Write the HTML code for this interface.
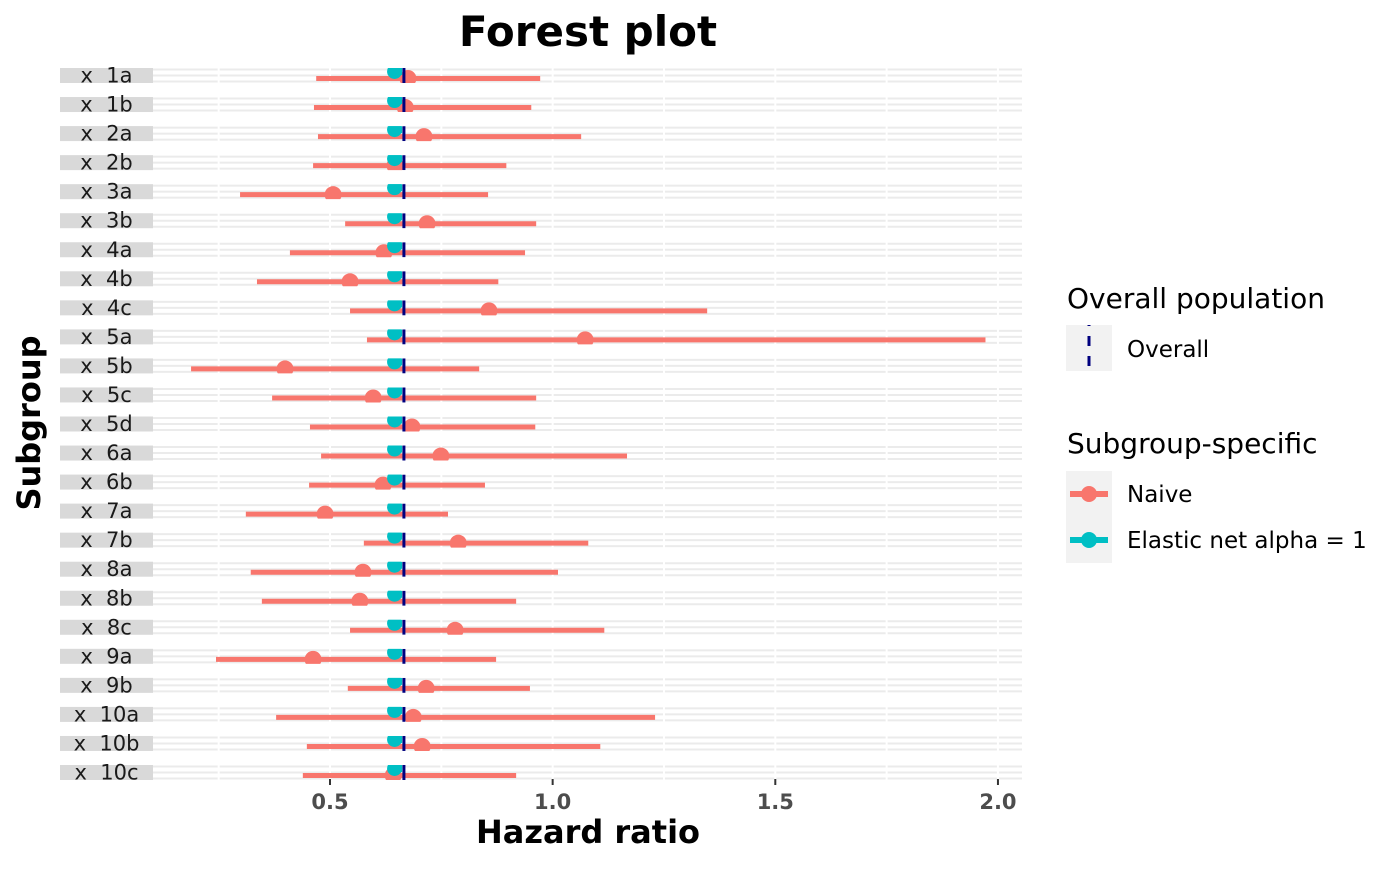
<!DOCTYPE html>
<html><head><meta charset="utf-8"><style>
body{margin:0;background:#fff;font-family:"DejaVu Sans","Liberation Sans",sans-serif}
text{white-space:pre}
</style></head><body>
<svg id="chart" width="1400" height="866" xmlns="http://www.w3.org/2000/svg" font-family="DejaVu Sans, Liberation Sans, sans-serif">
<text x="588" y="46" font-size="42" font-weight="bold" text-anchor="middle">Forest plot</text>
<text x="588" y="843" font-size="32" font-weight="bold" text-anchor="middle">Hazard ratio</text>
<text transform="translate(40,423) rotate(-90)" font-size="32" font-weight="bold" text-anchor="middle">Subgroup</text>
<g id="rows"></g>
<g id="xaxis"></g>
<g>
<text x="1067" y="308" font-size="28" fill="#000">Overall population</text>
<rect x="1066" y="325" width="46" height="46" fill="#f2f2f2"/>
<line x1="1089" y1="325" x2="1089" y2="371" stroke="#00007f" stroke-width="3" stroke-dasharray="10,10" stroke-dashoffset="9"/>
<text x="1127" y="357" font-size="23">Overall</text>
</g>
<g>
<text x="1067" y="453" font-size="28">Subgroup-specific</text>
<rect x="1066" y="471" width="46" height="92" fill="#f2f2f2"/>
<line x1="1070" y1="494" x2="1108" y2="494" stroke="#f8766d" stroke-width="6"/>
<circle cx="1089" cy="494" r="8" fill="#f8766d"/>
<text x="1127" y="502" font-size="23">Naive</text>
<line x1="1070" y1="540" x2="1108" y2="540" stroke="#00bfc4" stroke-width="6"/>
<circle cx="1089" cy="540" r="8" fill="#00bfc4"/>
<text x="1127" y="548" font-size="23">Elastic net alpha = 1</text>
</g>
</svg>
<script>
const labels=["x  1a","x  1b","x  2a","x  2b","x  3a","x  3b","x  4a","x  4b","x  4c","x  5a","x  5b","x  5c","x  5d","x  6a","x  6b","x  7a","x  7b","x  8a","x  8b","x  8c","x  9a","x  9b","x  10a","x  10b","x  10c"];
const naivePt=[0.675,0.669,0.711,0.646,0.507,0.718,0.621,0.545,0.857,1.073,0.399,0.597,0.684,0.749,0.619,0.489,0.788,0.574,0.567,0.781,0.462,0.716,0.687,0.707,0.642];
const naiveLo=[0.469,0.464,0.473,0.462,0.298,0.534,0.410,0.336,0.545,0.583,0.188,0.370,0.455,0.480,0.453,0.311,0.576,0.322,0.347,0.545,0.244,0.540,0.379,0.448,0.439];
const naiveHi=[0.972,0.952,1.064,0.896,0.855,0.963,0.938,0.878,1.347,1.972,0.835,0.963,0.961,1.167,0.848,0.765,1.080,1.012,0.918,1.116,0.873,0.949,1.230,1.107,0.918];
const enPt=[0.645,0.645,0.645,0.645,0.645,0.645,0.645,0.645,0.645,0.645,0.645,0.645,0.645,0.645,0.645,0.645,0.645,0.645,0.645,0.645,0.645,0.645,0.645,0.645,0.645];
const enLo=[0.632,0.632,0.632,0.632,0.632,0.632,0.632,0.632,0.632,0.632,0.632,0.632,0.632,0.632,0.632,0.632,0.632,0.632,0.632,0.632,0.632,0.632,0.632,0.632,0.632];
const enHi=[0.662,0.662,0.662,0.662,0.662,0.662,0.662,0.662,0.662,0.662,0.662,0.662,0.662,0.662,0.662,0.662,0.662,0.662,0.662,0.662,0.662,0.662,0.662,0.662,0.662];
const overall=[0.666];
const majorTicks=[0.5,1.0,1.5,2.0];
const tickLabels=["0.5","1.0","1.5","2.0"];
const minorTicks=[0.25,0.75,1.25,1.75];
const NS="http://www.w3.org/2000/svg";
const X0=153,X1=1022;
function xs(v){return 330+(v-0.5)*445.3;}
function rowTop(i){return 68+i*(697/24);}
function mk(tag,attrs,parent){const e=document.createElementNS(NS,tag);for(const k in attrs)e.setAttribute(k,attrs[k]);parent.appendChild(e);return e;}
const rows=document.getElementById('rows');
const H=15;
labels.forEach((lab,i)=>{
  const t=rowTop(i);
  const g=mk('g',{},rows);
  
  
  const strip=mk('rect',{x:60,y:t,width:93,height:H,fill:'#d9d9d9'},g);
  
  
  const tx=mk('text',{x:106.5,y:t+14.5,'font-size':21,'text-anchor':'middle',fill:'#1a1a1a'},g);
  tx.textContent=lab;
  
  
  [1.5,7.5,13.5].forEach(dy=>mk('line',{x1:X0,x2:X1,y1:t+dy,y2:t+dy,stroke:'#ebebeb','stroke-width':2},g));
  majorTicks.concat(minorTicks).forEach(v=>mk('line',{x1:xs(v),x2:xs(v),y1:t,y2:t+H,stroke:'#fff','stroke-width':2},g));
  const cid='c'+i;
  const cp=mk('clipPath',{id:cid},g);
  mk('rect',{x:X0,y:t,width:X1-X0,height:H},cp);
  const d=mk('g',{'clip-path':'url(#'+cid+')'},g);
  const nl=mk('line',{x1:xs(naiveLo[i]),x2:xs(naiveHi[i]),y1:t+10.5,y2:t+10.5,stroke:'#f8766d','stroke-width':5},d);
  
  
  const np=mk('circle',{cx:xs(naivePt[i]),cy:t+10.5,r:8.5,fill:'#f8766d'},d);
  
  
  const el=mk('line',{x1:xs(enLo[i]),x2:xs(enHi[i]),y1:t+3.5,y2:t+3.5,stroke:'#00bfc4','stroke-width':7},d);
  
  
  const ep=mk('circle',{cx:xs(enPt[i]),cy:t+3.5,r:7.5,fill:'#00bfc4'},d);
  
  
  const ov=mk('line',{x1:xs(overall[0]),x2:xs(overall[0]),y1:t,y2:t+H,stroke:'#00007f','stroke-width':3},d);
  
  
});
const xa=document.getElementById('xaxis');
majorTicks.forEach((v,i)=>{
  mk('line',{x1:xs(v),x2:xs(v),y1:779,y2:785,stroke:'#333','stroke-width':2},xa);
  const t=mk('text',{x:xs(v),y:809,'font-size':21,'font-weight':'bold','text-anchor':'middle',fill:'#4d4d4d'},xa);
  t.textContent=tickLabels[i];
  
  
});
</script>
</body></html>
